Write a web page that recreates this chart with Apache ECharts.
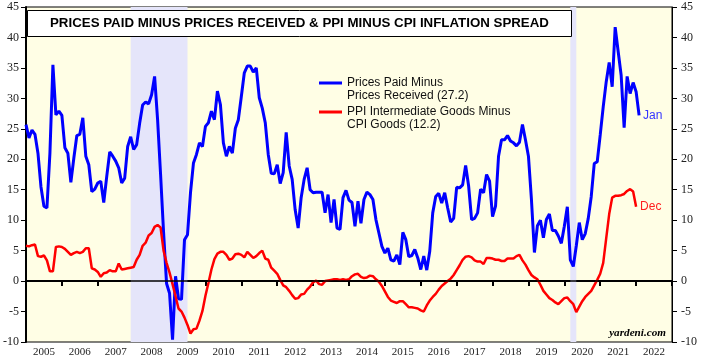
<!DOCTYPE html>
<html>
<head>
<meta charset="utf-8">
<script src="https://cdn.jsdelivr.net/npm/echarts@6.0.0/dist/echarts.min.js"></script>
<style>html,body{margin:0;padding:0;background:#fff}#c{width:701px;height:358px}</style>
</head>
<body>
<div id="c"></div>
<script>
const titleText = 'PRICES PAID MINUS PRICES RECEIVED & PPI MINUS CPI INFLATION SPREAD';
const years = ['2005','2006','2007','2008','2009','2010','2011','2012','2013','2014','2015','2016','2017','2018','2019','2020','2021','2022'];
const blueName = 'Prices Paid Minus\nPrices Received (27.2)';
const redName = 'PPI Intermediate Goods Minus\nCPI Goods (12.2)';
const blueEndLabel = 'Jan';
const redEndLabel = 'Dec';
const yMin = -10, yMax = 45, yStep = 5;
// recession periods (start month, end month)
const recessions = [['2007-12', '2009-06'], ['2020-03', '2020-04']];

// monthly values, month-end points starting at the close of Dec 2004
const pricesPaidMinusReceived = [
  25.7, 23.5, 24.8, 24.1, 21.0, 15.5, 12.3, 12.0, 21.0, 35.5, 27.3, 27.9,
  27.2, 21.9, 21.0, 16.2, 20.2, 23.9, 24.1, 26.8, 20.5, 19.1, 14.7, 15.1,
  16.1, 16.4, 12.9, 17.2, 21.2, 20.5, 19.7, 18.6, 16.1, 16.9, 22.1, 23.7,
  21.6, 22.4, 25.9, 28.9, 29.4, 29.1, 30.6, 33.6, 26.5, 17.5, 8.0, -0.4,
  -2.0, -9.6, 0.8, -2.9, -3.0, 6.8, 7.6, 14.5, 19.4, 20.8, 22.7, 22.1,
  25.4, 26.0, 27.9, 26.5, 31.2, 29.0, 22.7, 20.5, 22.1, 21.0, 25.1, 26.5,
  30.3, 34.2, 35.3, 35.3, 34.3, 35.0, 30.1, 28.4, 26.0, 20.8, 17.7, 17.6,
  19.1, 16.0, 17.8, 24.4, 18.9, 16.7, 11.7, 8.7, 13.7, 16.7, 18.6, 15.0,
  14.5, 14.6, 14.6, 14.6, 11.2, 14.2, 9.6, 13.4, 8.7, 8.5, 13.7, 14.9,
  13.3, 12.9, 9.0, 13.1, 9.5, 13.4, 14.6, 14.2, 13.4, 10.1, 7.9, 5.7,
  4.6, 5.4, 3.5, 3.3, 4.3, 2.7, 8.0, 6.8, 4.0, 4.2, 5.2, 3.8,
  1.9, 4.1, 1.8, 4.9, 11.2, 13.9, 14.4, 12.8, 14.5, 12.0, 9.7, 10.3,
  15.4, 15.3, 15.8, 19.0, 15.6, 10.1, 10.3, 11.2, 15.1, 14.5, 17.5, 16.4,
  10.6, 12.3, 20.5, 23.2, 23.2, 23.9, 23.0, 22.7, 22.2, 22.8, 25.7, 23.2,
  20.5, 13.4, 4.7, 9.1, 10.0, 7.1, 10.1, 11.0, 8.3, 8.3, 7.4, 6.2,
  9.0, 12.2, 3.5, 2.4, 5.8, 9.6, 6.8, 7.8, 10.3, 13.9, 19.3, 19.6,
  24.0, 28.6, 32.7, 35.9, 31.9, 41.7, 37.7, 33.8, 25.2, 33.6, 30.8, 32.6,
  31.1, 27.2
];
const ppiMinusCpiGoods = [
  5.8, 5.7, 5.9, 6.0, 4.1, 4.0, 4.2, 3.4, 1.6, 1.6, 5.6, 5.7,
  5.6, 5.3, 4.8, 4.3, 4.6, 4.8, 4.6, 4.8, 5.4, 5.4, 2.1, 1.9,
  1.5, 0.7, 1.3, 1.4, 1.8, 1.6, 1.6, 2.9, 1.9, 2.0, 2.1, 2.2,
  2.3, 3.5, 4.3, 5.8, 6.3, 7.5, 7.9, 8.9, 9.2, 8.8, 5.0, 3.0,
  1.4, -0.5, -2.5, -4.5, -5.0, -6.0, -7.2, -8.6, -7.9, -7.8, -6.5, -4.9,
  -2.4, -0.3, 1.9, 3.6, 4.5, 4.8, 4.8, 4.3, 3.5, 3.7, 4.4, 4.5,
  4.3, 3.9, 4.8, 4.3, 3.8, 4.1, 4.6, 5.0, 3.7, 3.5, 2.2, 1.7,
  1.2, 0.2, -0.7, -1.0, -1.6, -2.3, -2.9, -2.8, -2.2, -2.1, -1.4, -0.9,
  -0.2, 0.1, -0.5, -0.6, 0.0, 0.1, 0.2, 0.3, 0.3, 0.2, 0.3, 0.2,
  0.3, 0.8, 1.1, 1.2, 0.7, 0.5, 0.6, 0.9, 0.8, 0.3, -0.1, -0.8,
  -1.7, -2.6, -3.2, -3.4, -3.6, -3.3, -3.3, -3.8, -4.3, -4.3, -4.4, -4.5,
  -4.8, -5.0, -4.0, -3.2, -2.6, -2.1, -1.4, -0.8, -0.4, 0.0, 0.4, 1.0,
  1.8, 2.6, 3.5, 4.0, 4.1, 3.9, 3.4, 3.2, 3.2, 2.8, 3.8, 3.8,
  3.7, 3.5, 3.5, 3.3, 3.3, 3.7, 3.7, 3.7, 4.1, 4.3, 3.4, 2.7,
  1.8, 1.0, 0.6, 0.3, -0.6, -1.6, -2.2, -2.8, -3.1, -3.5, -3.8, -3.3,
  -2.8, -2.7, -3.3, -3.8, -5.1, -4.2, -3.3, -2.6, -2.1, -1.6, -0.7, 0.2,
  1.2, 3.0, 7.0, 11.0, 13.7, 14.0, 14.0, 14.1, 14.3, 14.8, 15.1, 14.7,
  12.2
];

const firstYear = Number(years[0]);
function monthIndex(s, atEnd) {
  const parts = s.split('-').map(Number);
  return (parts[0] - firstYear) * 12 + (parts[1] - 1) + (atEnd ? 1 : 0);
}
const toPoints = arr => arr.map((v, i) => [i, v]);

// legend swatch: a line stripe aligned with the first text line
const legendStripe = 'path://M0,0L0.01,0L0,0.01Z M0,5L23,5L23,8L0,8Z M22.99,26L23,26L23,25.99Z';

const chart = echarts.init(document.getElementById('c'), null, {renderer: 'canvas'});
const yAxisBase = {
  type: 'value', min: yMin, max: yMax, interval: yStep,
  splitLine: {show: false},
  axisTick: {show: true, length: 5, lineStyle: {color: '#000', width: 1}},
  axisLabel: {fontFamily: 'Liberation Serif', fontSize: 12, color: '#222'}
};
chart.setOption({
  animation: false,
  backgroundColor: '#fff',
  title: {
    text: titleText, left: 27, top: 10, padding: [6, 23, 6, 23],
    backgroundColor: '#fff', borderColor: '#000', borderWidth: 1,
    textStyle: {fontFamily: 'Liberation Sans', fontWeight: 'bold', fontSize: 13.3, color: '#000', lineHeight: 15}
  },
  legend: {
    orient: 'vertical', left: 319, top: 76.5, padding: 0,
    itemWidth: 23, itemHeight: 26, itemGap: 3, icon: legendStripe,
    data: [blueName, redName],
    textStyle: {fontFamily: 'Liberation Sans', fontSize: 12, color: '#111', lineHeight: 13}
  },
  grid: {left: 24, right: 29, top: 7, bottom: 16, show: true, backgroundColor: '#FFFEE5', borderColor: '#000', borderWidth: 1},
  xAxis: [
    {
      type: 'category', data: years, boundaryGap: true,
      axisLine: {lineStyle: {color: '#000', width: 2}},
      axisTick: {show: true, length: 5, lineStyle: {color: '#000', width: 2}},
      axisLabel: {interval: 0, margin: 5, fontFamily: 'Liberation Serif', fontSize: 11, color: '#222'},
      splitLine: {show: false}
    },
    {type: 'value', min: 0, max: years.length * 12, show: false}
  ],
  yAxis: [
    Object.assign({}, yAxisBase, {position: 'left', axisLine: {show: true, lineStyle: {color: '#000', width: 2}},
      axisLabel: Object.assign({}, yAxisBase.axisLabel, {margin: 7})}),
    Object.assign({}, yAxisBase, {position: 'right', axisLine: {show: true, lineStyle: {color: '#000', width: 1}},
      axisLabel: Object.assign({}, yAxisBase.axisLabel, {margin: 9})})
  ],
  series: [
    {
      name: blueName, type: 'line', xAxisIndex: 1, yAxisIndex: 0,
      data: toPoints(pricesPaidMinusReceived), symbol: 'none',
      lineStyle: {color: '#0000FF', width: 3}, itemStyle: {color: '#0000FF'},
      endLabel: {show: true, formatter: blueEndLabel, color: '#3535FF', fontFamily: 'Liberation Sans', fontSize: 12, distance: 4},
      markArea: {
        silent: true, itemStyle: {color: '#E5E5FA'},
        data: recessions.map(r => [{xAxis: monthIndex(r[0], false)}, {xAxis: monthIndex(r[1], true)}])
      }
    },
    {
      name: redName, type: 'line', xAxisIndex: 1, yAxisIndex: 0,
      data: toPoints(ppiMinusCpiGoods), symbol: 'none',
      lineStyle: {color: '#FF0000', width: 2.5}, itemStyle: {color: '#FF0000'},
      endLabel: {show: true, formatter: redEndLabel, color: '#FF2020', fontFamily: 'Liberation Sans', fontSize: 12, distance: 4},
      markLine: {
        silent: true, symbol: 'none', label: {show: false},
        lineStyle: {color: '#000', width: 1.5, type: 'solid'},
        data: [{yAxis: 0}]
      }
    }
  ],
  graphic: [
    {type: 'text', right: 35, top: 328, z: 10,
     style: {text: 'yardeni.com', font: 'italic bold 11.2px "Liberation Serif"', fill: '#000'}}
  ]
});
</script>
</body>
</html>
